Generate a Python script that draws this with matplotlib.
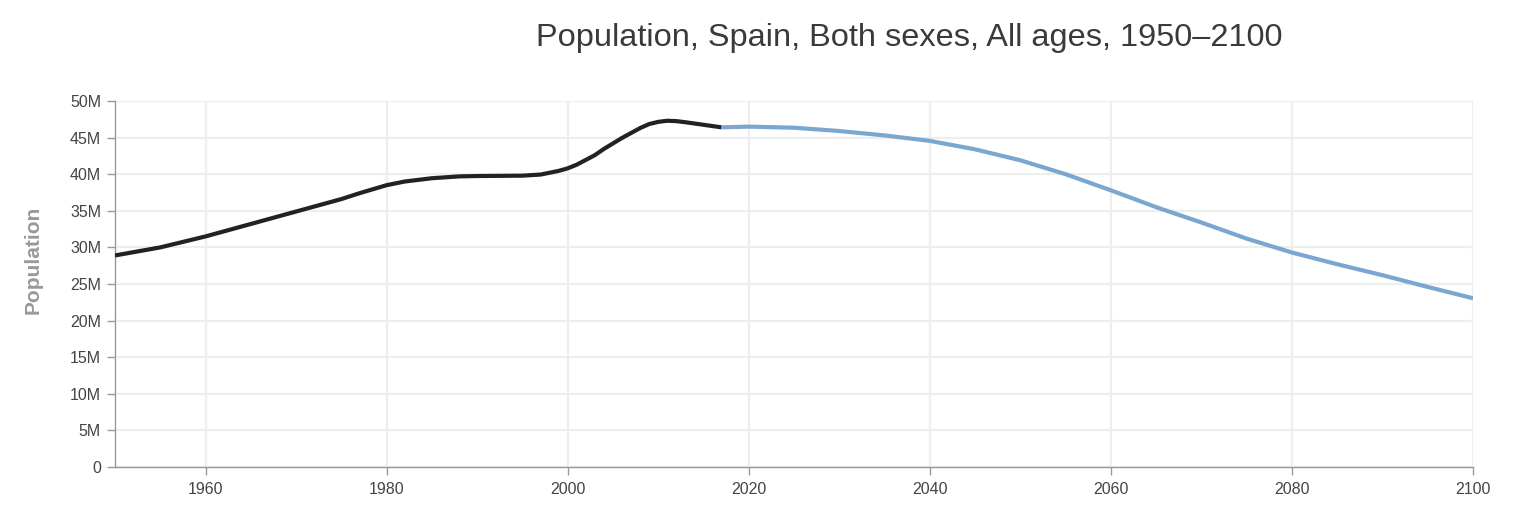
import matplotlib
matplotlib.use("Agg")
import matplotlib.pyplot as plt
import matplotlib.ticker as plticker

# population in millions
years_hist = [1950, 1955, 1960, 1965, 1970, 1975, 1977, 1980, 1982, 1985,
              1988, 1990, 1995, 1997, 1999, 2000, 2001, 2003, 2004, 2006,
              2008, 2009, 2010, 2011, 2012, 2013, 2015, 2017]
pop_hist = [28.9, 30.0, 31.5, 33.2, 34.9, 36.6, 37.4, 38.5, 39.0, 39.45,
            39.7, 39.75, 39.8, 39.95, 40.45, 40.8, 41.3, 42.6, 43.45, 44.95,
            46.3, 46.85, 47.15, 47.3, 47.25, 47.1, 46.75, 46.4]

years_proj = [2017, 2020, 2025, 2030, 2035, 2040, 2045, 2050, 2055, 2060,
              2065, 2070, 2075, 2080, 2085, 2090, 2095, 2100]
pop_proj = [46.4, 46.5, 46.35, 45.9, 45.3, 44.55, 43.4, 41.9, 40.0, 37.8,
            35.5, 33.4, 31.2, 29.3, 27.7, 26.2, 24.6, 23.05]

title = "Population, Spain, Both sexes, All ages, 1950\u20132100"

plt.rcParams['font.family'] = ['Liberation Sans', 'DejaVu Sans']

fig = plt.figure(figsize=(15.39, 5.16), dpi=100)
ax = fig.add_axes([115 / 1539, 49 / 516, 1358 / 1539, 366 / 516])

ax.plot(years_hist, [p * 1e6 for p in pop_hist], color="#222222", lw=3.0,
        solid_capstyle="butt", solid_joinstyle="round", zorder=3)
ax.plot(years_proj, [p * 1e6 for p in pop_proj], color="#7ba6cf", lw=3.0,
        solid_capstyle="butt", solid_joinstyle="round", zorder=3)

ax.set_xlim(1950, 2100)
ax.set_ylim(0, 50e6)
ax.xaxis.set_major_locator(plticker.FixedLocator(range(1960, 2101, 20)))
ax.yaxis.set_major_locator(plticker.MultipleLocator(5e6))
ax.yaxis.set_major_formatter(plticker.FuncFormatter(
    lambda v, p: "0" if v == 0 else "%dM" % round(v / 1e6)))

ax.grid(True, color="#eeeeee", lw=1.6, zorder=0)
for side in ["top", "right"]:
    ax.spines[side].set_visible(False)
for side in ["left", "bottom"]:
    ax.spines[side].set_color("#999999")
    ax.spines[side].set_linewidth(1.0)
ax.tick_params(direction="out", length=6, width=1, color="#999999",
               labelsize=11.5, labelcolor="#444444", pad=4)
ax.tick_params(axis="x", pad=5)

fig.text(33 / 1539, 1 - 260 / 516, "Population", fontsize=15,
         fontweight="bold", color="#999999", rotation=90,
         ha="center", va="center")

fig.text(909 / 1539, 1 - 38 / 516, title, fontsize=23.4, color="#3a3a3a",
         ha="center", va="center")

fig.savefig("out.png", dpi=100)
